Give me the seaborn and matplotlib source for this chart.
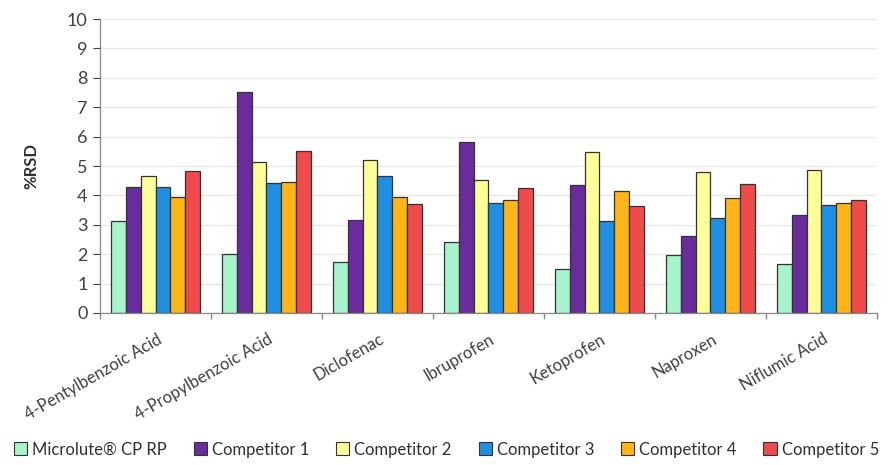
import matplotlib
matplotlib.use("Agg")
import matplotlib.pyplot as plt
import matplotlib.transforms as mtransforms
import seaborn as sns
import pandas as pd
import numpy as np
from matplotlib.patches import Patch

compounds = ["4-Pentylbenzoic Acid", "4-Propylbenzoic Acid", "Diclofenac", "Ibruprofen",
             "Ketoprofen", "Naproxen", "Niflumic Acid"]
series = ["Microlute\u00ae CP RP", "Competitor 1", "Competitor 2", "Competitor 3",
          "Competitor 4", "Competitor 5"]
microlute = [3.12, 2.02, 1.72, 2.42, 1.50, 1.96, 1.67]
comp1 = [4.29, 7.52, 3.15, 5.80, 4.35, 2.63, 3.33]
comp2 = [4.65, 5.14, 5.20, 4.52, 5.48, 4.78, 4.86]
comp3 = [4.29, 4.42, 4.65, 3.74, 3.12, 3.22, 3.66]
comp4 = [3.95, 4.45, 3.95, 3.85, 4.16, 3.91, 3.74]
comp5 = [4.82, 5.52, 3.72, 4.24, 3.65, 4.39, 3.85]
colors = ["#a6f3cc", "#6a2c9c", "#ffff99", "#1f8fe3", "#ffb418", "#f04a4a"]

values = [microlute, comp1, comp2, comp3, comp4, comp5]
rows = []
for s, vals in zip(series, values):
    for c, v in zip(compounds, vals):
        rows.append({"Compound": c, "Series": s, "RSD": v})
df = pd.DataFrame(rows)

sns.set_theme(style="white")
plt.rcParams['font.family'] = ['Lato', 'DejaVu Sans']

fig = plt.figure(figsize=(8.93, 4.65), dpi=100)
ax = fig.add_axes([0.112, 0.327, 0.870, 0.632])

sns.barplot(data=df, x="Compound", y="RSD", hue="Series", order=compounds,
            hue_order=series, palette=colors, width=0.8, edgecolor="#333333",
            linewidth=0.9, ax=ax, legend=False, saturation=1)

ax.set_ylim(0, 10)
ax.set_xlim(-0.5, len(compounds) - 0.5)
ax.set_yticks(range(0, 11))
ax.yaxis.grid(True, color="#e8e8e8", linewidth=1)
ax.set_axisbelow(True)
ax.tick_params(axis='y', labelsize=13, colors="#404040", length=5, left=True, width=0.8,
               pad=4)
for lbl in ax.get_yticklabels():
    lbl.set_color("#404040")
ax.set_ylabel("%RSD", fontsize=12, fontweight="bold", color="#303030", labelpad=20)
ax.set_xlabel("")

ax.set_xticks(range(len(compounds)))
ax.set_xticklabels(compounds, rotation=30, ha="right", va="center",
                   rotation_mode="anchor", fontsize=12, color="#404040")
ax.tick_params(axis='x', length=0, pad=18)
offset = mtransforms.ScaledTranslation(5 / 100, 0, fig.dpi_scale_trans)
for lbl in ax.get_xticklabels():
    lbl.set_transform(lbl.get_transform() + offset)
ax.set_xticks(np.arange(-0.5, len(compounds)), minor=True)
ax.tick_params(axis='x', which='minor', length=4, bottom=True, color="#888888")

for side in ["top", "right"]:
    ax.spines[side].set_visible(False)
for side in ["left", "bottom"]:
    ax.spines[side].set_color("#888888")
    ax.spines[side].set_linewidth(0.9)

handles = [Patch(facecolor=c, edgecolor="#333333", linewidth=0.8, label=s)
           for c, s in zip(colors, series)]
fig.legend(handles=handles, loc="center", bbox_to_anchor=(0.5, 0.033), ncol=6,
           frameon=False, fontsize=12, handlelength=0.8, handleheight=0.8,
           handletextpad=0.3, columnspacing=1.6, labelcolor="#303030")

fig.savefig("out.png", dpi=100)
